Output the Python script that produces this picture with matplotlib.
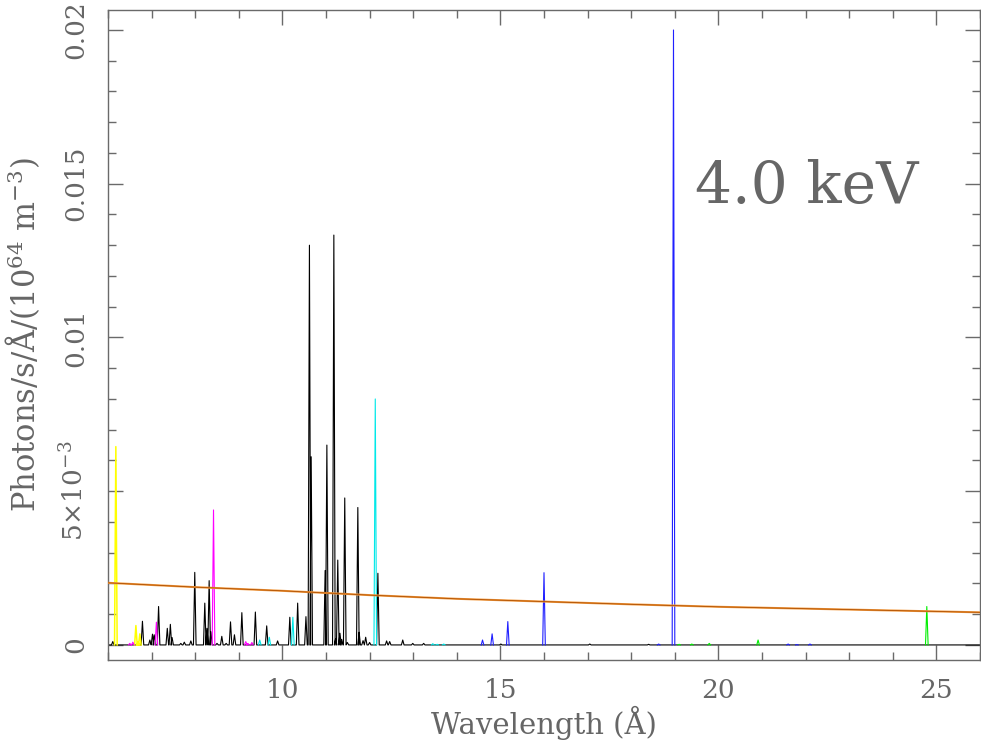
import matplotlib
matplotlib.use("Agg")
import matplotlib.pyplot as plt
from matplotlib.ticker import MultipleLocator

# ---------------- data ----------------
# continuum (orange)
cont_wl = [6.0, 8.0, 10.0, 12.0, 14.0, 16.0, 18.0, 20.0, 22.0, 24.0, 26.0]
cont_val = [0.00202, 0.00188, 0.00176, 0.00162, 0.00150, 0.00141, 0.00132,
            0.00124, 0.00118, 0.00112, 0.00106]

# Si (yellow)
si_wl = [6.18, 6.64, 6.69, 6.73]
si_h = [0.00645, 0.00063, 0.00010, 0.00036]

# Mg (magenta)
mg_wl = [6.50, 6.57, 7.11, 8.42, 9.16, 9.21, 9.30]
mg_h = [0.00005, 0.00009, 0.00074, 0.00439, 0.00011, 0.00005, 0.00008]

# Ne (cyan)
ne_wl = [9.48, 9.70, 10.24, 12.13, 13.45, 13.55, 13.70]
ne_h = [0.00016, 0.00025, 0.00090, 0.00800, 0.00004, 0.00002, 0.00003]

# O (blue)
o_wl = [14.59, 14.81, 15.17, 16.00, 18.63, 18.97, 21.60, 21.80, 22.10]
o_h = [0.00016, 0.00036, 0.00076, 0.00235, 0.00003, 0.02000, 0.00003,
       0.00001, 0.00003]

# N (green)
n_wl = [19.10, 19.39, 19.79, 20.91, 24.78]
n_h = [0.00002, 0.00003, 0.00005, 0.00016, 0.00125]

# Fe and others (black)
fe_wl = [6.11, 6.79, 6.96, 7.02, 7.06, 7.16, 7.36, 7.43, 7.47, 7.67, 7.75,
         7.90, 7.99, 8.22, 8.27, 8.32, 8.36, 8.50, 8.61, 8.71, 8.81, 8.90,
         9.07, 9.38, 9.64, 9.89, 10.17, 10.35, 10.54, 10.62, 10.66, 10.98,
         11.02, 11.18, 11.22, 11.27, 11.32, 11.36, 11.43, 11.49, 11.73,
         11.76, 11.85, 11.91, 12.00, 12.19, 12.39, 12.46, 12.76, 12.99,
         13.24, 15.01, 17.05, 18.40]
fe_h = [0.00011, 0.00077, 0.00016, 0.00035, 0.00033, 0.00125, 0.00054,
        0.00067, 0.00024, 0.00005, 0.00009, 0.00013, 0.00236, 0.00136,
        0.00054, 0.00209, 0.00043, 0.00005, 0.00028, 0.00005, 0.00075,
        0.00033, 0.00105, 0.00107, 0.00062, 0.00013, 0.00090, 0.00136,
        0.00092, 0.01300, 0.00612, 0.00242, 0.00650, 0.01333, 0.00020,
        0.00276, 0.00038, 0.00018, 0.00478, 0.00008, 0.00447, 0.00041,
        0.00014, 0.00025, 0.00008, 0.00233, 0.00013, 0.00011, 0.00016,
        0.00005, 0.00005, 0.00003, 0.00003, 0.00002]

x_range = (6.0, 26.0)
y_range = (-0.00049, 0.02065)
y_ticks = [0.0, 0.005, 0.01, 0.015, 0.02]
y_ticklabels = ["0", r"5$\times$10$^{-3}$", "0.01", "0.015", "0.02"]
x_ticks = [10, 15, 20, 25]
x_ticklabels = ["10", "15", "20", "25"]

HALF_WIDTH = 0.03  # line profile half width (style)


def spikes(wl, h, full=None):
    """Polyline through baseline for each line; separate pieces unless full."""
    xs, ys = [], []
    if full is not None:
        xs.append(full[0]); ys.append(0.0)
    for c, v in sorted(zip(wl, h)):
        xs += [c - HALF_WIDTH, c, c + HALF_WIDTH]
        ys += [0.0, v, 0.0]
        if full is None:
            xs.append(float("nan")); ys.append(float("nan"))
    if full is not None:
        xs.append(full[1]); ys.append(0.0)
    return xs, ys


# ---------------- plot ----------------
TXT = "#666666"
FRAME = "#6a6a6a"
plt.rcParams["font.family"] = ["DejaVu Serif"]
plt.rcParams["mathtext.fontset"] = "dejavuserif"

fig = plt.figure(figsize=(9.81, 7.41), dpi=100)
ax = fig.add_axes([108 / 981, 81 / 741, 872 / 981, 650 / 741])

lw = 0.8
ax.plot(*spikes(fe_wl, fe_h, full=x_range), color="black", lw=lw, zorder=2)
ax.plot(*spikes(si_wl, si_h), color="#ffff00", lw=lw + 0.3, zorder=3)
ax.plot(*spikes(mg_wl, mg_h), color="#ff00ff", lw=lw, zorder=3)
ax.plot(*spikes(ne_wl, ne_h), color="#00e8e8", lw=lw, zorder=3)
ax.plot(*spikes(o_wl, o_h), color="#2020ff", lw=lw, zorder=3)
ax.plot(*spikes(n_wl, n_h), color="#00ee00", lw=lw, zorder=3)
ax.plot(cont_wl, cont_val, color="#f29a40", lw=1.5, zorder=4)
ax.plot(cont_wl, cont_val, color="#b05000", lw=0.6, zorder=4)

ax.set_xlim(*x_range)
ax.set_ylim(*y_range)

ax.set_xticks(x_ticks)
ax.set_xticklabels(x_ticklabels)
ax.set_yticks(y_ticks)
ax.set_yticklabels(y_ticklabels, rotation=90, va="center")
ax.xaxis.set_minor_locator(MultipleLocator(1))
ax.yaxis.set_minor_locator(MultipleLocator(0.001))

ax.tick_params(which="both", direction="in", top=True, right=True,
               colors=FRAME, labelcolor=TXT, labelsize=19, width=1.0)
ax.tick_params(which="major", length=11)
ax.tick_params(which="minor", length=5.5)
ax.tick_params(axis="x", which="major", pad=13)
ax.tick_params(axis="y", which="major", pad=14)
for s in ax.spines.values():
    s.set_color(FRAME)
    s.set_linewidth(1.0)

ax.set_xlabel("Wavelength (Å)", fontsize=21, color=TXT, labelpad=2)
ax.set_ylabel(r"Photons/s/Å/(10$^{64}$ m$^{-3}$)", fontsize=22, color=TXT,
              labelpad=13)

ax.text(19.46, 0.0149, "4.0 keV", fontsize=42, color=TXT, va="center",
        ha="left")

fig.savefig("out.png", dpi=100)
